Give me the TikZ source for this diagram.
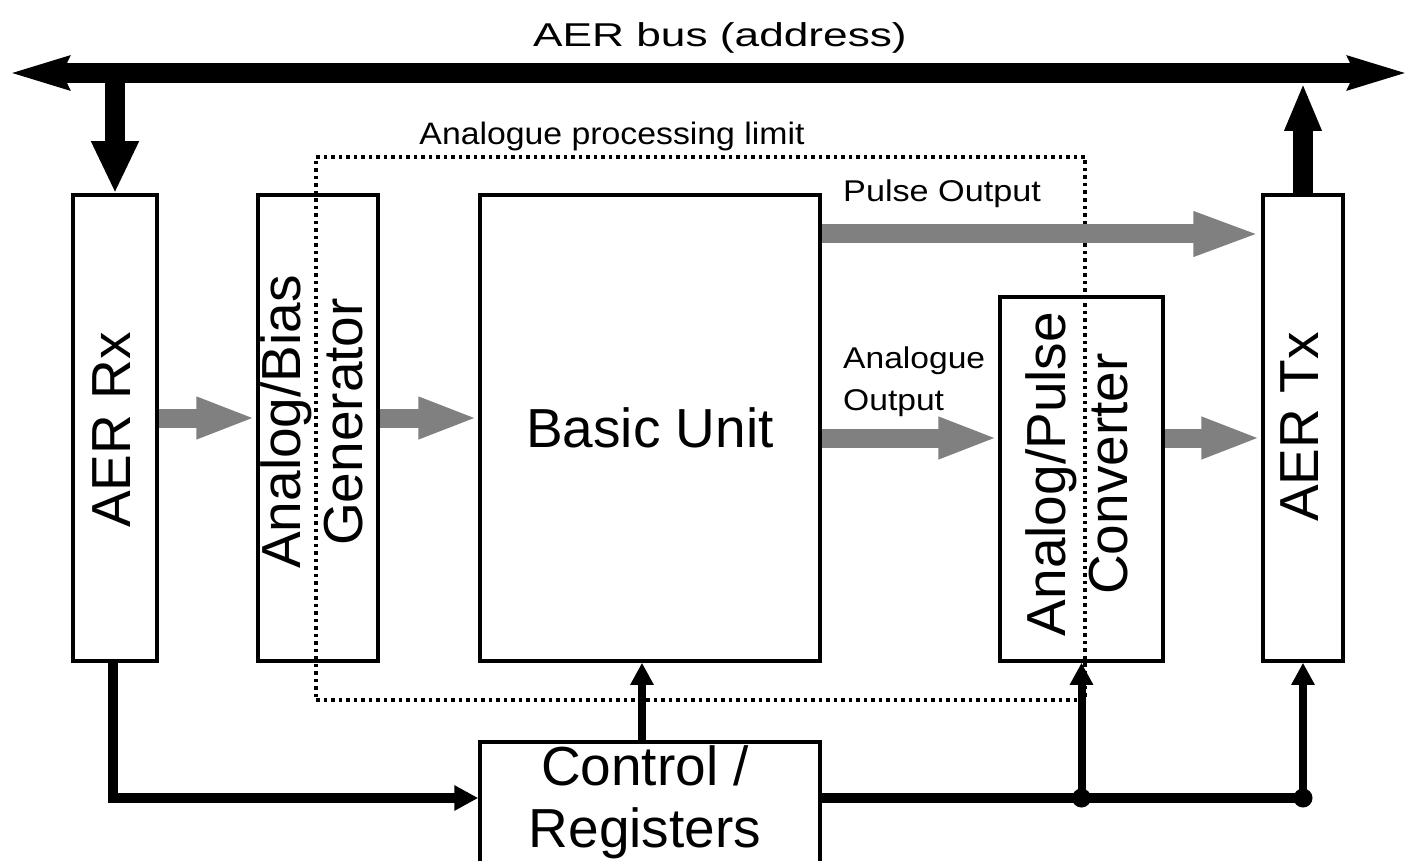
\documentclass[tikz,border=0pt]{standalone}
\usepackage{fontspec}
\setmainfont{Liberation Sans}
\usetikzlibrary{arrows.meta,calc}
\definecolor{arrowgray}{RGB}{128,128,128}
\begin{document}
\begin{tikzpicture}[x=1pt,y=-1pt,
  blk/.style={draw, line width=3.5pt, inner sep=0pt},
  big/.style={font=\fontsize{55}{62}\selectfont, inner sep=0pt, align=center},
  small/.style={font=\fontsize{30}{42}\selectfont, inner sep=0pt, align=left},
  limit/.style={draw, line width=3.5pt, dash pattern=on 3.5pt off 4pt, inner sep=0pt},
  bus/.style={line width=20pt, {Stealth[length=58pt,width=32pt,inset=6pt]}-{Stealth[length=58pt,width=32pt,inset=6pt]}},
  busdrop/.style={line width=20pt, -{Triangle[length=52pt,width=44pt]}},
  busrise/.style={line width=20pt, -{Triangle[length=48pt,width=34pt]}},
  gar/.style={draw=arrowgray, line width=19pt, -{Triangle[length=60pt,width=38pt,color=arrowgray]}},
  ctl/.style={line width=10pt},
  ctlarr/.style={line width=8pt, -{Triangle[length=22pt,width=22pt]}},
  junction/.style={circle, fill, inner sep=0pt, minimum size=19pt}
]
\useasboundingbox (0,0) rectangle (1409,861);
\clip (0,0) rectangle (1409,861);

% analogue processing limit (dotted frame)
\node[limit, minimum width=769pt, minimum height=543pt] (lim) at (700.5,428.5) {};

% blocks
\node[blk, minimum width=84pt,  minimum height=466pt] (rx)   at (115,428) {};
\node[blk, minimum width=120pt, minimum height=466pt] (gen)  at (318,428) {};
\node[blk, minimum width=340pt, minimum height=466pt, big] (bu) at (650,428) {Basic Unit};
\node[blk, minimum width=163pt, minimum height=364pt] (apc)  at (1081.5,479) {};
\node[blk, minimum width=80pt,  minimum height=466pt] (tx)   at (1303,428) {};
\node[blk, minimum width=340pt, minimum height=158pt] (ctrl) at (650,821) {};

% block captions
\node[big, rotate=90] (rxT)  at (112,430)  {AER Rx};
\node[big, rotate=90] (genT) at (312,422)  {Analog/Bias\\Generator};
\node[big, rotate=90] (apcT) at (1077,474) {Analog/Pulse\\Converter};
\node[big, rotate=90] (txT)  at (1300,427) {AER Tx};
\node[big] (ctrlT) at (645,802) {Control /\\Registers};

% AER bus
\coordinate (busL) at (10,73);
\coordinate (busR) at (1407,73);
\draw[bus] (busL) -- (busR);
\node[font=\fontsize{33}{40}\selectfont, inner sep=0pt, anchor=base] (busT) at (720,47)
  {\scalebox{1.34}[1]{AER bus (address)}};
\draw[busdrop] (rx.north |- busL) -- (rx.north);
\draw[busrise] (tx.north) -- ([yshift=-10pt]tx.north |- busL);

% labels
\node[font=\fontsize{31}{40}\selectfont, inner sep=0pt, anchor=base] (limT) at (612,145)
  {\scalebox{1.09}[1]{Analogue processing limit}};
\node[small, anchor=base west] (pulseT) at (843,202) {\scalebox{1.14}[1]{Pulse Output}};
\node[small, anchor=north west] (anaT) at (843,347)
  {\scalebox{1.12}[1]{Analogue}\\\scalebox{1.12}[1]{Output}};

% signal flow (grey)
\draw[gar] ([yshift=10pt]rx.east) -- ([yshift=10pt]gen.west);
\draw[gar] ([yshift=10pt]gen.east) -- ([yshift=10pt]bu.west);
\draw[gar] ([yshift=-10pt]bu.east) -- ([yshift=41pt]apc.west);
\draw[gar] ([yshift=41pt]apc.east) -- ([yshift=-10pt]tx.west);
\draw[gar, -{Triangle[length=68pt,width=40pt,color=arrowgray]}] ([yshift=194pt]bu.east) -- ([yshift=194pt]tx.west);

% control wiring
\coordinate (cy) at (0,798);
\draw[ctl, -{Triangle[length=24pt,width=24pt]}] ([xshift=-2pt]rx.south) |- (ctrl.west |- cy);
\draw[ctl] (ctrl.east |- cy) -- (tx.south |- cy);
\draw[ctlarr] ([xshift=-8pt]ctrl.north) -- ([xshift=-8pt]bu.south);
\draw[ctlarr] (apc.south |- cy) -- (apc.south);
\draw[ctlarr] (tx.south |- cy) -- (tx.south);
\node[junction] (j1) at (apc.south |- cy) {};
\node[junction] (j2) at (tx.south |- cy) {};
\end{tikzpicture}
\end{document}
